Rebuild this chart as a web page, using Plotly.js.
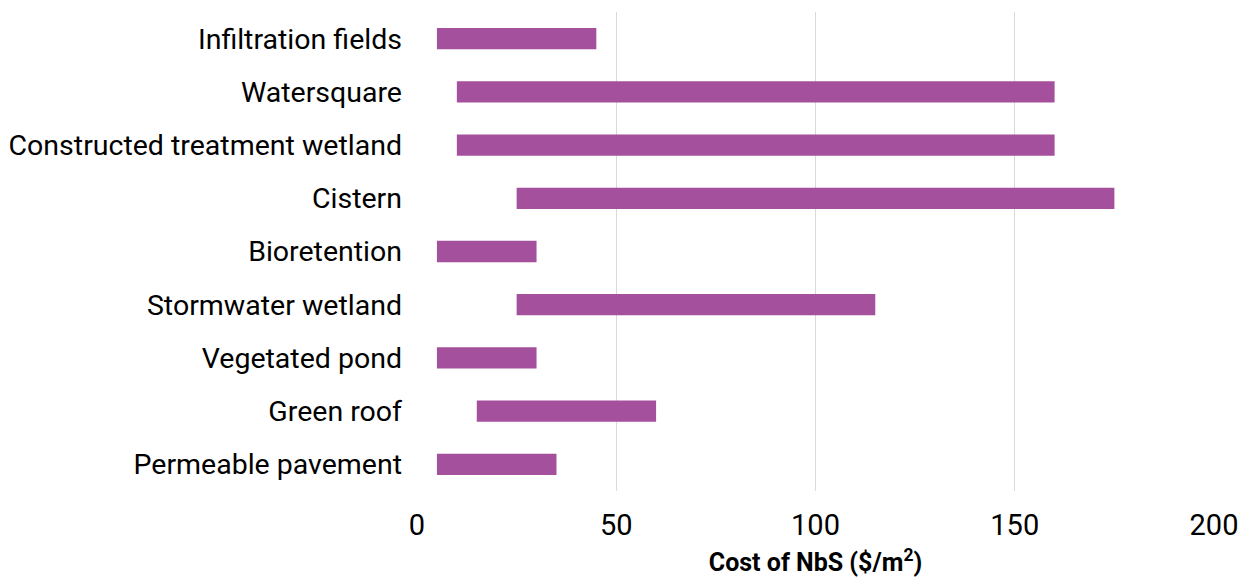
<!DOCTYPE html>
<html>
<head>
<meta charset="utf-8">
<script src="https://cdn.plot.ly/plotly-3.0.1.min.js"></script>
<style>html,body{margin:0;padding:0;background:#fff;}</style>
</head>
<body>
<div id="chart" style="width:1246px;height:578px;"></div>
<script>
const categories = ["Infiltration fields","Watersquare","Constructed treatment wetland","Cistern","Bioretention","Stormwater wetland","Vegetated pond","Green roof","Permeable pavement"];
const minCost = [5, 10, 10, 25, 5, 25, 5, 15, 5];
const maxCost = [45, 160, 160, 175, 30, 115, 30, 60, 35];
const xTicks = [0, 50, 100, 150, 200];

const spans = maxCost.map((v, i) => v - minCost[i]);

Plotly.newPlot('chart', [{
  type: 'bar',
  orientation: 'h',
  y: categories,
  x: spans,
  base: minCost,
  width: 0.4,
  marker: {color: 'rgb(164,80,157)'},
  hoverinfo: 'skip'
}], {
  width: 1246, height: 578,
  margin: {l: 417, r: 32, t: 12, b: 87},
  paper_bgcolor: '#fff', plot_bgcolor: '#fff',
  font: {family: 'Roboto, sans-serif', color: '#000'},
  showlegend: false,
  xaxis: {
    range: [0, 200],
    tickvals: xTicks,
    ticktext: xTicks.map(String),
    showgrid: true, gridcolor: '#d9d9d9', gridwidth: 1,
    zeroline: false, showline: false,
    ticks: '',
    ticklabelstandoff: 14,
    tickfont: {size: 29, family: 'Roboto, sans-serif', color: '#000'},
    title: {text: '<b>Cost of NbS ($/m<sup>2</sup>)</b>', font: {size: 25, family: 'Roboto, sans-serif', color: '#000'}, standoff: 12}
  },
  yaxis: {
    autorange: 'reversed',
    showgrid: false, zeroline: false, showline: false,
    ticks: '',
    ticklabelstandoff: 14,
    tickfont: {size: 28.5, family: 'Roboto, sans-serif', color: '#000'}
  }
}, {displayModeBar: false, staticPlot: true});
</script>
</body>
</html>
